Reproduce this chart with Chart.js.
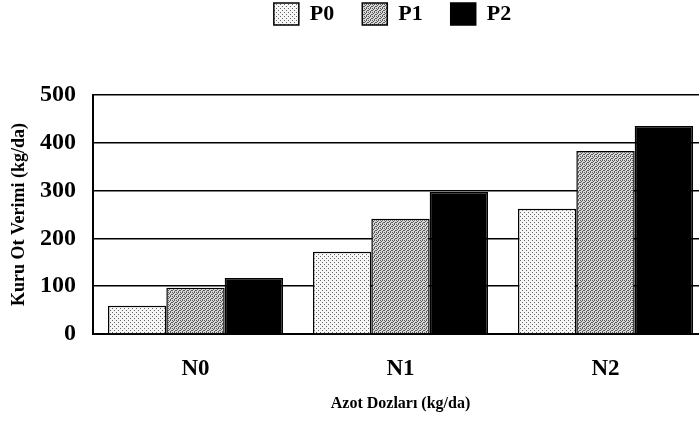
<!DOCTYPE html>
<html>
<head>
<meta charset="utf-8">
<script src="https://cdn.jsdelivr.net/npm/chart.js@4.4.1/dist/chart.umd.min.js"></script>
<style>
  html,body{margin:0;padding:0;background:#fff;overflow:hidden;}
  #wrap{width:712px;height:424px;position:relative;}
</style>
</head>
<body>
<div id="wrap"><canvas id="chart"></canvas></div>
<script>
const categories = ['N0','N1','N2'];
const seriesNames = ['P0','P1','P2'];
const p0 = [59, 172, 262];
const p1 = [97, 241, 383];
const p2 = [117, 297, 435];
const yTicks = [0,100,200,300,400,500];

const serif = '"Liberation Serif", "DejaVu Serif", serif';

// halftone-ish fills like the scanned figure
function tile(rows, dark, light){
  const c=document.createElement('canvas'); c.width=rows[0].length; c.height=rows.length;
  const g=c.getContext('2d');
  rows.forEach((r,y)=>[...r].forEach((ch,x)=>{ g.fillStyle = ch==='#'?dark:light; g.fillRect(x,y,1,1); }));
  return g.createPattern(c,'repeat');
}
const fillP0 = tile(['#...','....','..#.','....'], '#666', '#f6f6f6');
const fillP1 = tile(['#.#.','.#..','#..#','..#.'], '#5a5a5a', '#d8d8d8');

// leave the empty band between legend and plot, nudge legend a bit left
const legendGap = {
  id:'legendGap',
  beforeInit(chart){
    const lg = chart.legend;
    const fit = lg.fit, draw = lg.draw;
    lg.fit = function(){ fit.call(this); this.height += 60; };
    lg.draw = function(){
      const c = this.ctx; c.save(); c.translate(-8,0); draw.call(this); c.restore();
    };
  }
};

const ctx=document.getElementById('chart');
new Chart(ctx,{
  type:'bar',
  data:{
    labels:categories,
    datasets:[
      {label:seriesNames[0], data:p0, backgroundColor:fillP0, borderColor:'#000', borderWidth:1.5},
      {label:seriesNames[1], data:p1, backgroundColor:fillP1, borderColor:'#000', borderWidth:1.5},
      {label:seriesNames[2], data:p2, backgroundColor:'#000', borderColor:'#000', borderWidth:1.5}
    ]
  },
  plugins:[legendGap],
  options:{
    responsive:true, maintainAspectRatio:false, animation:false,
    layout:{padding:{top:-25,right:4,left:0,bottom:0}},
    datasets:{bar:{barPercentage:1, categoryPercentage:0.854}},
    plugins:{
      tooltip:{enabled:false},
      legend:{
        position:'top', fullSize:false,
        labels:{boxWidth:25, boxHeight:22, padding:28, color:'#000',
          font:{family:serif, size:22, weight:'bold'}}
      }
    },
    scales:{
      x:{
        grid:{display:false, drawTicks:false},
        border:{color:'#000', width:2},
        ticks:{color:'#000', padding:21, font:{family:serif, size:23, weight:'bold'}},
        title:{display:true, text:'Azot Dozları (kg/da)', color:'#000',
          font:{family:serif, size:16, weight:'bold'}, padding:{top:0,bottom:11}},
        afterFit:s=>{ s.height=90; }
      },
      y:{
        min:0, max:500,
        afterBuildTicks:s=>{ s.ticks = yTicks.map(v=>({value:v})); },
        grid:{color:'#000', lineWidth:1.5, drawTicks:false},
        border:{color:'#000', width:2},
        ticks:{color:'#000', padding:17, font:{family:serif, size:24, weight:'bold'}},
        title:{display:true, text:'Kuru Ot Verimi (kg/da)', color:'#000',
          font:{family:serif, size:18, weight:'bold'}, padding:{top:9,bottom:0}},
        afterFit:s=>{ s.width=93; }
      }
    }
  }
});
</script>
</body>
</html>
